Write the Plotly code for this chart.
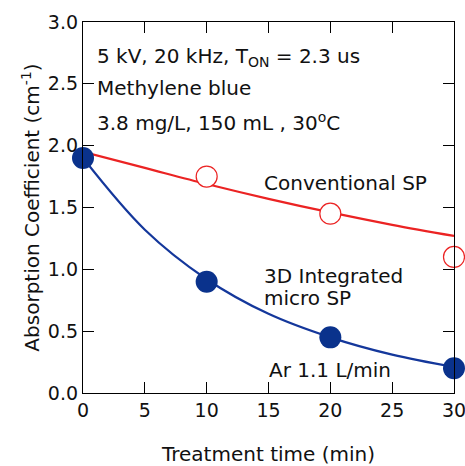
import plotly.graph_objects as go

# measured points
time_pts = [0, 10, 20, 30]
micro_sp = [1.90, 0.90, 0.45, 0.20]
conv_sp_time = [10, 20, 30]
conv_sp = [1.75, 1.45, 1.10]

# fitted curves
fit_time = [0, 5, 10, 15, 20, 25, 30]
micro_fit = [1.90, 1.32, 0.92, 0.64, 0.45, 0.31, 0.21]
conv_fit = [1.95, 1.82, 1.69, 1.57, 1.46, 1.36, 1.27]

x_ticks = [0, 5, 10, 15, 20, 25, 30]
y_ticks = [0.0, 0.5, 1.0, 1.5, 2.0, 2.5, 3.0]

FONT = "DejaVu Sans"
BLUE_LINE = "rgb(20,55,155)"
BLUE_MARK = "rgb(10,50,140)"
RED = "rgb(235,35,35)"

fig = go.Figure()
fig.add_trace(go.Scatter(x=fit_time, y=conv_fit, mode="lines", line=dict(color=RED, width=2.2, shape="spline"),
                         hoverinfo="skip", showlegend=False, cliponaxis=False))
fig.add_trace(go.Scatter(x=fit_time, y=micro_fit, mode="lines", line=dict(color=BLUE_LINE, width=2.2, shape="spline"),
                         hoverinfo="skip", showlegend=False, cliponaxis=False))
fig.add_trace(go.Scatter(x=conv_sp_time, y=conv_sp, mode="markers",
                         marker=dict(size=21, color="white", line=dict(color=RED, width=1.2)),
                         showlegend=False, cliponaxis=False))
fig.add_trace(go.Scatter(x=time_pts, y=micro_sp, mode="markers",
                         marker=dict(size=22, color=BLUE_MARK, line=dict(width=0)),
                         showlegend=False, cliponaxis=False))

axis_common = dict(showline=True, linecolor="black", linewidth=1.3, mirror="ticks", ticks="inside",
                   ticklen=11, tickwidth=1.3, tickcolor="black", showgrid=False, zeroline=False,
                   automargin=False, ticklabeloverflow="allow",
                   tickfont=dict(family=FONT, size=19, color="#111"))

fig.update_xaxes(range=[0, 30], tickvals=x_ticks, ticktext=[str(v) for v in x_ticks],
                 title=dict(text="Treatment time (min)", font=dict(family=FONT, size=20, color="#111"), standoff=27),
                 **axis_common)
fig.update_yaxes(range=[0, 3], tickvals=y_ticks, ticktext=[f"{v:.1f}" for v in y_ticks],
                 title=dict(text="Absorption Coefficient (cm<sup>-1</sup>)", font=dict(family=FONT, size=20, color="#111"), standoff=2),
                 **axis_common)

ann_font = dict(family=FONT, size=20, color="#111")
texts = [
    (0.97, 2.72, "5 kV, 20 kHz, T<sub>ON</sub> = 2.3 us"),
    (0.97, 2.47, "Methylene blue"),
    (0.97, 2.19, "3.8 mg/L, 150 mL , 30<sup>o</sup>C"),
    (14.45, 1.70, "Conventional SP"),
    (14.45, 0.95, "3D Integrated"),
    (14.45, 0.77, "micro SP"),
    (14.85, 0.19, "Ar 1.1 L/min"),
]
for x, y, t in texts:
    fig.add_annotation(x=x, y=y, xref="x", yref="y", text=t, showarrow=False,
                       xanchor="left", yanchor="middle", font=ann_font)

fig.update_layout(width=465, height=466, margin=dict(l=83, r=11, t=22, b=73),
                  plot_bgcolor="white", paper_bgcolor="white", font=dict(family=FONT))

fig.write_html("out.html", config={"displayModeBar": False},
               post_script="document.body.style.margin='0';")
